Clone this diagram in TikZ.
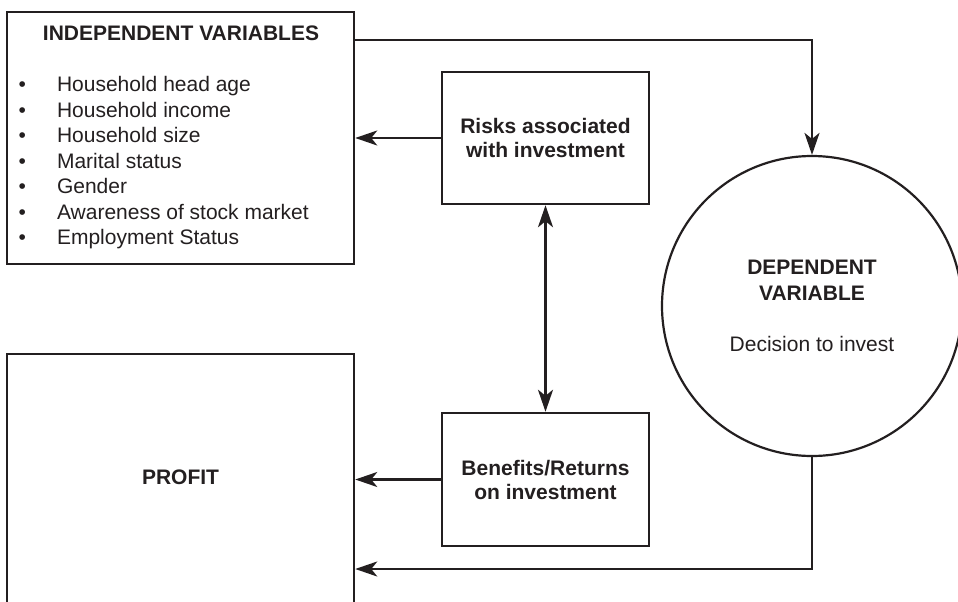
\documentclass[tikz,border=0pt]{standalone}
\usepackage{fontspec}
\setmainfont{Liberation Sans}
\usetikzlibrary{arrows.meta}
\definecolor{ink}{HTML}{231F20}
\begin{document}
\begin{tikzpicture}[x=1pt,y=-1pt,
  box/.style={draw=ink, line width=2.5pt, rectangle, inner sep=0pt},
  lbl/.style={font=\fontsize{21}{24}\selectfont\bfseries, text=ink, align=center},
  plain/.style={font=\fontsize{21}{25.5}\selectfont, text=ink, inner sep=0pt},
  tipk/.tip={Stealth[length=22pt,width=15pt,inset=6pt]},
  arr/.style={draw=ink, line width=2.3pt, -tipk},
  arrboth/.style={draw=ink, line width=2.3pt, tipk-tipk}]
\useasboundingbox (0,0) rectangle (958,602);
% boxes
\node[box, minimum width=347pt, minimum height=252pt] (indep) at (180.5,138) {};
\node[lbl, inner sep=0pt, anchor=base] (indeptitle) at (181,40.5) {INDEPENDENT VARIABLES};
\node[plain, anchor=base west] (indeplist) at (18.5,92) {%
  \begin{tabular}[t]{@{}l@{\hspace{31pt}}l@{}}
  • & Household head age\\
  • & Household income\\
  • & Household size\\
  • & Marital status\\
  • & Gender\\
  • & Awareness of stock market\\
  • & Employment Status
  \end{tabular}};
\node[box, lbl, minimum width=207pt, minimum height=132pt] (risks) at (545.5,138) {Risks associated\\with investment};
\node[box, lbl, minimum width=207pt, minimum height=133pt] (benefits) at (545.5,479.5) {Benefits/Returns\\on investment};
\node[box, minimum width=347pt, minimum height=280pt,
      label={[lbl, yshift=17pt]center:PROFIT}] (profit) at (180.5,494) {};
\node[circle, draw=ink, line width=2.2pt, minimum size=300pt, inner sep=0pt,
      align=center, text=ink, font=\fontsize{21}{26}\selectfont] (dep) at (812,306)
      {\textbf{DEPENDENT}\\\textbf{VARIABLE}\\[25pt]Decision to invest};
% connectors
\draw[arr] ([yshift=-29pt]indep.north east) -| (dep.north);
\draw[arr] (risks.west) -- (risks.west -| indep.east);
\draw[arrboth] (risks.south) -- (benefits.north);
\draw[arr] (benefits.west) -- (benefits.west -| profit.east);
\draw[arr] (dep.south) |- ([yshift=-75pt]profit.east);
\end{tikzpicture}
\end{document}
